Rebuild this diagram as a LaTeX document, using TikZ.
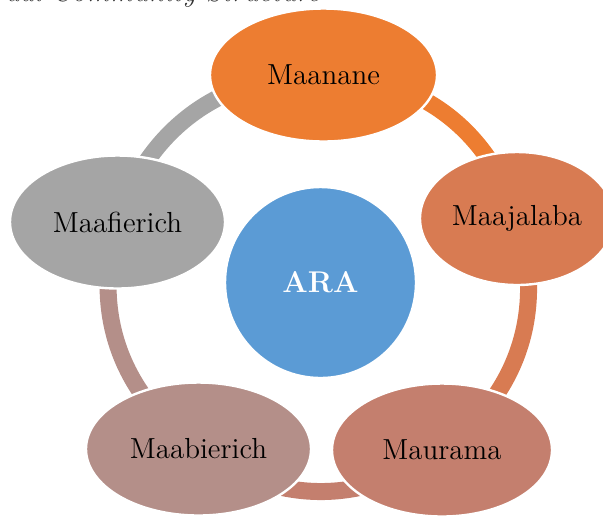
\documentclass[tikz,border=0pt]{standalone}
\usetikzlibrary{shapes.geometric}
\usetikzlibrary{backgrounds}

\definecolor{maananecol}{RGB}{237,125,49}
\definecolor{maajalabacol}{RGB}{216,123,82}
\definecolor{mauramacol}{RGB}{196,127,110}
\definecolor{maabierichcol}{RGB}{180,143,137}
\definecolor{maafierichcol}{RGB}{165,165,165}
\definecolor{aracol}{RGB}{91,155,213}

\begin{document}
\begin{tikzpicture}[x=0.5pt,y=-0.5pt,
  member/.style={ellipse,draw=white,line width=1.2pt,inner sep=0pt,minimum height=66.5pt,font=\fontsize{14.5}{17}\selectfont},
  ring/.style={line width=8.5pt}]

\useasboundingbox (0,0) rectangle (603,516);

% caption (cut off at the top)
\node[anchor=base east,font=\itshape\fontsize{14.5}{17}\selectfont,text=black!80] (caption) at (327,1) {ual Community Structure};

% centre
\node[circle,fill=aracol,draw=white,line width=1.2pt,minimum size=95.5pt,text=white,font=\bfseries\fontsize{15}{18}\selectfont] (ara) at (320.5,282.5) {ARA};

% the five members
\node[member,fill=maananecol,minimum width=113.5pt] (maanane) at (323.5,75) {Maanane};
\node[member,fill=maajalabacol,minimum width=97pt] (maajalaba) at (517,218.5) {Maajalaba};
\node[member,fill=mauramacol,minimum width=110pt] (maurama) at (442,450) {Maurama};
\node[member,fill=maabierichcol,minimum width=112.5pt] (maabierich) at (198.5,449) {Maabierich};
\node[member,fill=maafierichcol,minimum width=107.5pt] (maafierich) at (117.5,222) {Maafierich};

% ring
\begin{scope}[on background layer]
\draw[ring,maananecol] (maanane.center) to[bend left=36] (maajalaba.center);
\draw[ring,maajalabacol] (maajalaba.center) to[bend left=36] (maurama.center);
\draw[ring,mauramacol] (maurama.center) to[bend left=36] (maabierich.center);
\draw[ring,maabierichcol] (maabierich.center) to[bend left=36] (maafierich.center);
\draw[ring,maafierichcol] (maafierich.center) to[bend left=37] (maanane.center);
\end{scope}

\end{tikzpicture}
\end{document}
